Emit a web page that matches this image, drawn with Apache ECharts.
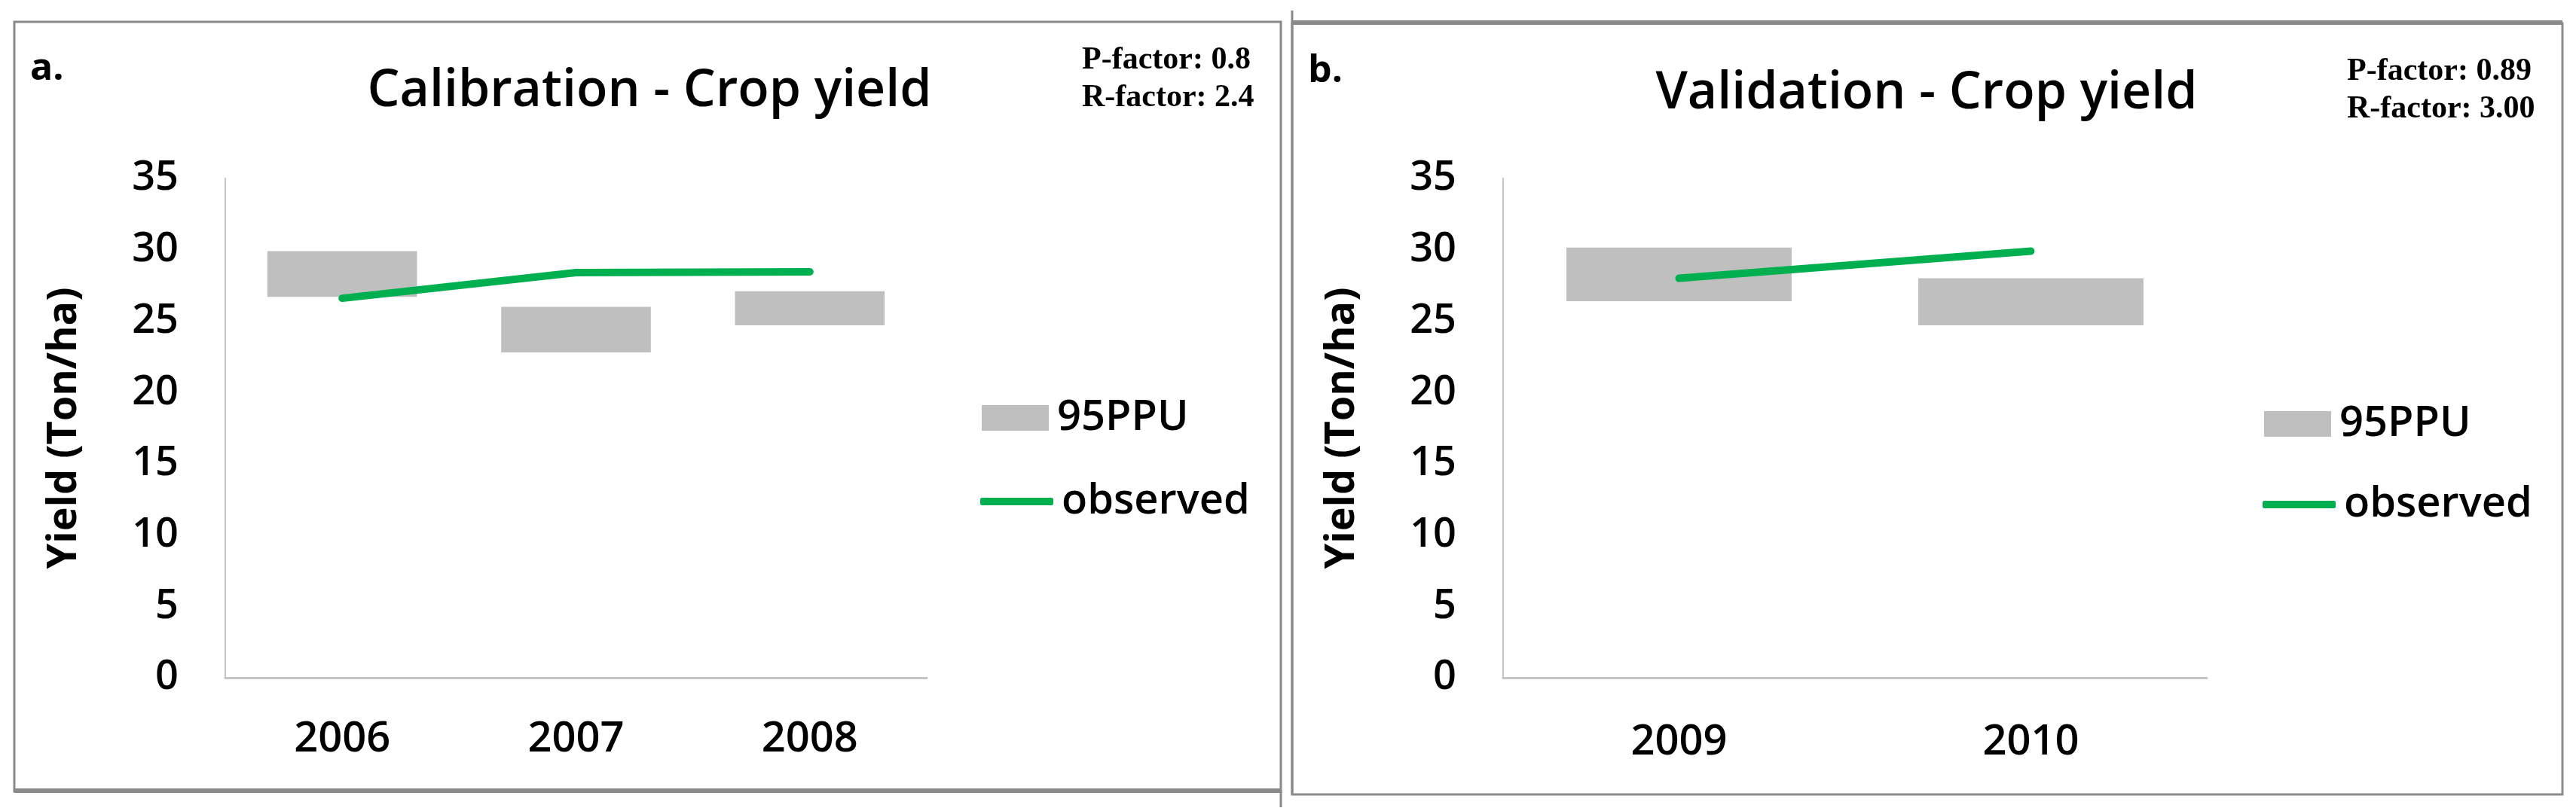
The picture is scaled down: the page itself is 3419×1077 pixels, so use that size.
<!DOCTYPE html>
<html>
<head>
<meta charset="utf-8">
<script src="https://cdn.jsdelivr.net/npm/echarts@6/dist/echarts.min.js"></script>
<style>
  html, body { margin: 0; padding: 0; background: #fff; }
  #main { width: 3419px; height: 1077px; }
</style>
</head>
<body>
<div id="main"></div>
<script>
// calibration panel (a.)
var calYears = ['2006', '2007', '2008'];
var calLower = [26.7, 22.8, 24.7];
var calUpper = [29.9, 26.0, 27.1];
var calObserved = [26.6, 28.4, 28.45];

// validation panel (b.)
var valYears = ['2009', '2010'];
var valLower = [26.4, 24.7];
var valUpper = [30.15, 28.0];
var valObserved = [28.0, 29.9];

var yTicks = { min: 0, max: 35, interval: 5 };

var chartDom = document.getElementById('main');
var myChart = echarts.init(chartDom);
var option;

var sans = 'Open Sans';
var serif = 'Liberation Serif';
var green = '#00b050';
var band = '#bfbfbf';
var frame = '#8a8a8a';

function diff(up, lo) {
  return up.map(function (v, i) { return +(v - lo[i]).toFixed(2); });
}

function xAxisFor(idx, cats, margin) {
  return {
    type: 'category',
    gridIndex: idx,
    data: cats,
    boundaryGap: true,
    axisTick: { show: false },
    axisLine: { lineStyle: { color: '#c4c4c4', width: 3 } },
    axisLabel: {
      margin: margin,
      color: '#000',
      fontSize: 56,
      fontWeight: 600,
      fontFamily: sans
    }
  };
}

function yAxisFor(idx) {
  return {
    type: 'value',
    gridIndex: idx,
    min: yTicks.min,
    max: yTicks.max,
    interval: yTicks.interval,
    name: 'Yield (Ton/ha)',
    nameLocation: 'middle',
    nameGap: 186,
    nameTextStyle: {
      color: '#000',
      fontSize: 54,
      fontWeight: 'bold',
      fontFamily: sans
    },
    splitLine: { show: false },
    axisTick: { show: false },
    axisLine: { show: true, lineStyle: { color: '#c4c4c4', width: 2 } },
    axisLabel: {
      margin: 62,
      color: '#000',
      fontSize: 54,
      fontWeight: 600,
      fontFamily: sans
    }
  };
}

function seriesFor(idx, lower, upper, observed) {
  var stack = 'ppu' + idx;
  return [
    {
      name: 'base',
      type: 'bar',
      xAxisIndex: idx,
      yAxisIndex: idx,
      stack: stack,
      barCategoryGap: '36%',
      itemStyle: { color: 'transparent' },
      emphasis: { disabled: true },
      silent: true,
      data: lower
    },
    {
      name: '95PPU',
      type: 'bar',
      xAxisIndex: idx,
      yAxisIndex: idx,
      stack: stack,
      barCategoryGap: '36%',
      itemStyle: { color: band },
      data: diff(upper, lower)
    },
    {
      name: 'observed',
      type: 'line',
      xAxisIndex: idx,
      yAxisIndex: idx,
      symbol: 'none',
      lineStyle: { color: green, width: 10, cap: 'round' },
      itemStyle: { color: green },
      data: observed
    }
  ];
}

function legendPair(x, yBand, yLine) {
  var txt = { color: '#000', fontSize: 56, fontFamily: sans, fontWeight: 600, padding: [0, 0, 0, 6] };
  return [
    {
      left: x, top: yBand, padding: 0,
      itemWidth: 89, itemHeight: 34,
      icon: 'rect',
      selectedMode: false,
      textStyle: txt,
      data: ['95PPU']
    },
    {
      left: x - 2, top: yLine, padding: 0,
      itemWidth: 97, itemHeight: 10,
      icon: 'roundRect',
      selectedMode: false,
      itemStyle: { color: green },
      textStyle: txt,
      data: ['observed']
    }
  ];
}

function titleText(text, x, y, size, weight, family, align, lh) {
  return {
    text: text,
    left: x,
    top: y,
    textAlign: align || 'left',
    padding: 0,
    textStyle: {
      color: '#000',
      fontSize: size,
      fontWeight: weight,
      fontFamily: family,
      lineHeight: lh || size
    }
  };
}

option = {
  backgroundColor: '#fff',
  animation: false,
  title: [
    titleText('a.', 40, 67, 50, 'bold', sans),
    titleText('Calibration - Crop yield', 862, 88, 68, 600, sans, 'center'),
    titleText('P-factor: 0.8\nR-factor: 2.4', 1436, 55, 42, 'bold', serif, 'left', 50),
    titleText('b.', 1736, 70, 50, 'bold', sans),
    titleText('Validation - Crop yield', 2557, 91, 68, 600, sans, 'center'),
    titleText('P-factor: 0.89\nR-factor: 3.00', 3115, 70, 42, 'bold', serif, 'left', 50)
  ],
  legend: legendPair(1303, 527, 638).concat(legendPair(3005, 535, 642)),
  grid: [
    { left: 299, top: 237, width: 931, height: 663 },
    { left: 1995, top: 237, width: 934, height: 663 }
  ],
  xAxis: [xAxisFor(0, calYears, 54), xAxisFor(1, valYears, 58)],
  yAxis: [yAxisFor(0), yAxisFor(1)],
  series: seriesFor(0, calLower, calUpper, calObserved)
    .concat(seriesFor(1, valLower, valUpper, valObserved)),
  graphic: [
    // panel frames
    { type: 'rect', shape: { x: 19, y: 29, width: 1681, height: 1022 },
      style: { fill: 'none', stroke: frame, lineWidth: 3 }, silent: true },
    { type: 'line', shape: { x1: 19, y1: 1050, x2: 1700, y2: 1050 },
      style: { stroke: frame, lineWidth: 6 }, silent: true },
    { type: 'line', shape: { x1: 1700, y1: 1050, x2: 1700, y2: 1072 },
      style: { stroke: frame, lineWidth: 3 }, silent: true },
    { type: 'rect', shape: { x: 1715, y: 31, width: 1686, height: 1024 },
      style: { fill: 'none', stroke: frame, lineWidth: 3 }, silent: true },
    { type: 'line', shape: { x1: 1715, y1: 30, x2: 3401, y2: 30 },
      style: { stroke: frame, lineWidth: 6 }, silent: true },
    { type: 'line', shape: { x1: 1715, y1: 14, x2: 1715, y2: 1055 },
      style: { stroke: frame, lineWidth: 3 }, silent: true }
  ]
};

myChart.setOption(option);
</script>
</body>
</html>
